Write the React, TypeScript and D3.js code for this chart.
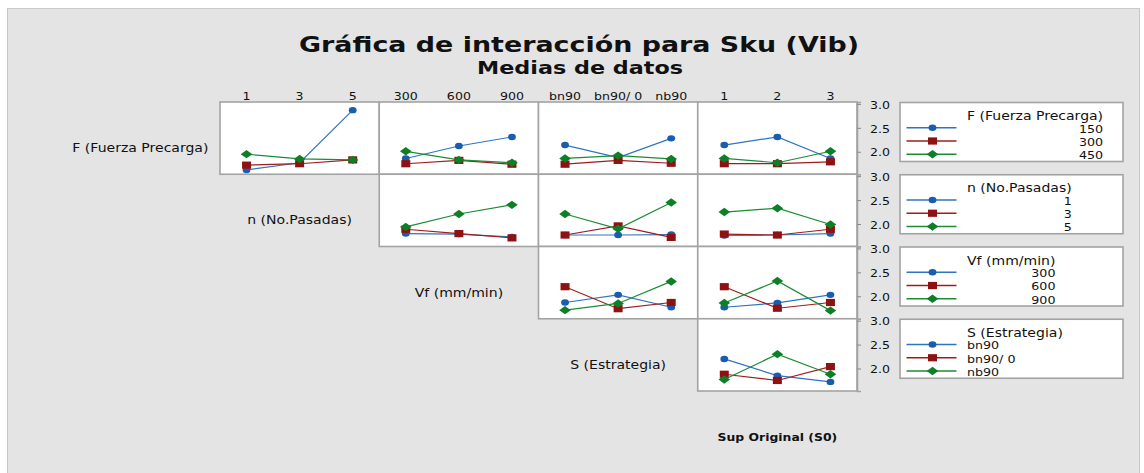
import React, { useEffect, useRef } from "react";
import * as d3 from "d3";

// Factor levels
const fLevels = ["150", "300", "450"];
const nLevels = ["1", "3", "5"];
const vfLevels = ["300", "600", "900"];
const sLevels = ["bn90", "bn90/ 0", "nb90"];
const s0Levels = ["1", "2", "3"];

const factorNames = [
  "F (Fuerza Precarga)",
  "n (No.Pasadas)",
  "Vf (mm/min)",
  "S (Estrategia)",
  "Sup Original (S0)",
];

// Means of Sku (Vib); one inner array per trace level
const fByN = [[1.62, 1.77, 2.87], [1.72, 1.75, 1.83], [1.95, 1.85, 1.83]];
const fByVf = [[1.86, 2.12, 2.31], [1.75, 1.82, 1.74], [2.01, 1.83, 1.77]];
const fByS = [[2.14, 1.88, 2.28], [1.74, 1.82, 1.76], [1.86, 1.92, 1.85]];
const fByS0 = [[2.14, 2.31, 1.86], [1.75, 1.75, 1.79], [1.86, 1.77, 2.01]];
const nByVf = [[1.8, 1.79, 1.73], [1.89, 1.8, 1.71], [1.94, 2.21, 2.4]];
const nByS = [[1.77, 1.77, 1.78], [1.77, 1.96, 1.72], [2.21, 1.9, 2.45]];
const nByS0 = [[1.76, 1.77, 1.8], [1.79, 1.77, 1.89], [2.25, 2.33, 1.99]];
const vfByS = [[1.87, 2.03, 1.77], [2.2, 1.74, 1.87], [1.71, 1.85, 2.31]];
const vfByS0 = [[1.77, 1.86, 2.03], [2.2, 1.75, 1.87], [1.86, 2.32, 1.7]];
const sByS0 = [[2.2, 1.85, 1.72], [1.88, 1.75, 2.04], [1.77, 2.3, 1.88]];

const yTicks = [2.0, 2.5, 3.0];

const W = 1144;
const H = 473;

const lineColors = ["#2f74c0", "#a01c1c", "#1b8c34"];
const markColors = ["#1a5db0", "#8e1212", "#0d7f26"];

export default function App() {
  const ref = useRef<SVGSVGElement>(null);

  useEffect(() => {
    const svg = d3.select(ref.current);
    svg.selectAll("*").remove();

    const font = "'DejaVu Sans', Verdana, sans-serif";

    const addText = (
      g: any,
      x: number,
      y: number,
      str: string,
      size: number,
      anchor: string,
      sx: number,
      weight = "normal"
    ) =>
      g
        .append("text")
        .attr("transform", `translate(${x},${y}) scale(${sx},1)`)
        .attr("text-anchor", anchor)
        .attr("dy", "0.35em")
        .attr("font-family", font)
        .attr("font-size", size)
        .attr("font-weight", weight)
        .attr("fill", "#111")
        .text(str);

    // backdrop
    svg.append("rect").attr("width", W).attr("height", H).attr("fill", "#fff");
    svg
      .append("rect")
      .attr("x", 7.5)
      .attr("y", 8.5)
      .attr("width", 1132)
      .attr("height", 470)
      .attr("fill", "#e4e4e4")
      .attr("stroke", "#c9c9c9");

    // titles
    svg
      .append("text")
      .attr("x", 579)
      .attr("y", 52)
      .attr("text-anchor", "middle")
      .attr("font-family", font)
      .attr("font-weight", "bold")
      .attr("font-size", 22)
      .attr("textLength", 560)
      .attr("lengthAdjust", "spacingAndGlyphs")
      .attr("fill", "#111")
      .text("Gráfica de interacción para Sku (Vib)");
    svg
      .append("text")
      .attr("x", 580)
      .attr("y", 74)
      .attr("text-anchor", "middle")
      .attr("font-family", font)
      .attr("font-weight", "bold")
      .attr("font-size", 17)
      .attr("textLength", 206)
      .attr("lengthAdjust", "spacingAndGlyphs")
      .attr("fill", "#111")
      .text("Medias de datos");

    const colScale = d3.scaleBand<number>().domain([0, 1, 2, 3]).range([220, 857]).paddingInner(0).paddingOuter(0);
    const rowScale = d3.scaleBand<number>().domain([0, 1, 2, 3]).range([102, 391]);
    const cw = colScale.bandwidth();
    const rh = rowScale.bandwidth();

    const xLevels = [nLevels, vfLevels, sLevels, s0Levels];
    const traceLevels = [fLevels, nLevels, vfLevels, sLevels];

    // cells[row][col] : means for trace factor row against x factor col
    const cells: (number[][] | null)[][] = [
      [fByN, fByVf, fByS, fByS0],
      [null, nByVf, nByS, nByS0],
      [null, null, vfByS, vfByS0],
      [null, null, null, sByS0],
    ];

    const yDomain: [number, number] = [1.53, 3.04];

    // top tick labels
    xLevels.forEach((levels, c) => {
      const x0 = colScale(c)!;
      const xs = d3.scalePoint<string>().domain(levels).range([x0, x0 + cw]).padding(0.5);
      levels.forEach((lv) => addText(svg, xs(lv)!, 96, lv, 10.5, "middle", 1.2));
    });

    // factor labels along the diagonal
    factorNames.forEach((name, r) => {
      const cx = 220 + (r - 1) * cw + cw / 2;
      const cy = 102 + r * rh + 46;
      addText(svg, cx, cy, name, r === 4 ? 11 : 12, "middle", r === 4 ? 1.13 : 1.17, r === 4 ? "bold" : "normal");
    });

    const drawMarker = (g: any, k: number, x: number, y: number, color: string) => {
      if (k === 0) {
        g.append("ellipse").attr("cx", x).attr("cy", y).attr("rx", 3.9).attr("ry", 3.2).attr("fill", color);
      } else if (k === 1) {
        g.append("rect").attr("x", x - 4.5).attr("y", y - 3.6).attr("width", 9).attr("height", 7.2).attr("fill", color);
      } else {
        g.append("path")
          .attr("d", `M${x - 5.8},${y}L${x},${y - 4.2}L${x + 5.8},${y}L${x},${y + 4.2}Z`)
          .attr("fill", color);
      }
    };

    for (let r = 0; r < 4; r++) {
      const top = rowScale(r)!;
      const y = d3.scaleLinear().domain(yDomain).range([top + rh, top]);
      for (let c = r; c < 4; c++) {
        const x0 = colScale(c)!;
        const g = svg.append("g");
        g.append("rect")
          .attr("x", x0)
          .attr("y", top)
          .attr("width", cw)
          .attr("height", rh)
          .attr("fill", "#fff")
          .attr("stroke", "#a3a3a3")
          .attr("stroke-width", 1.6);
        const xs = d3.scalePoint<string>().domain(xLevels[c]).range([x0, x0 + cw]).padding(0.5);
        const data = cells[r][c]!;
        const line = d3
          .line<number>()
          .x((_, i) => xs(xLevels[c][i])!)
          .y((v) => y(v));
        data.forEach((series, k) => {
          g.append("path")
            .attr("d", line(series))
            .attr("fill", "none")
            .attr("stroke", lineColors[k])
            .attr("stroke-width", 1.2);
          series.forEach((v, i) => drawMarker(g, k, xs(xLevels[c][i])!, y(v), markColors[k]));
        });
      }

      // right axis for the row
      const axisG = svg.append("g").attr("transform", `translate(857,0)`);
      const ax = d3.axisRight(y).tickValues(yTicks).tickSize(4).tickFormat(d3.format(".1f"));
      axisG.call(ax as any);
      axisG.select(".domain").attr("stroke", "#a3a3a3").attr("stroke-width", 1.6);
      axisG.selectAll(".tick line").attr("stroke", "#888");
      axisG.selectAll(".tick text").remove();
      yTicks.forEach((t) => addText(axisG, 13, y(t) + 1, d3.format(".1f")(t), 10.5, "start", 1.2));

      // legend
      const lg = svg.append("g");
      lg.append("rect")
        .attr("x", 900)
        .attr("y", top + 0.5)
        .attr("width", 223)
        .attr("height", 59)
        .attr("fill", "#fff")
        .attr("stroke", "#a3a3a3")
        .attr("stroke-width", 1.6);
      const tx = 967;
      const title = addText(lg, tx, top + 14, factorNames[r], 12, "start", 1.17);
      const tw = (title.node() as SVGTextElement).getComputedTextLength() * 1.17;
      const levels = traceLevels[r];
      const numeric = levels.every((l) => /^\d+$/.test(l));
      levels.forEach((lv, k) => {
        const iy = top + 25.7 + k * 13.3;
        lg.append("line")
          .attr("x1", 906.5)
          .attr("x2", 956.5)
          .attr("y1", iy)
          .attr("y2", iy)
          .attr("stroke", lineColors[k])
          .attr("stroke-width", 1.4);
        drawMarker(lg, k, 932.5, iy, markColors[k]);
        if (numeric) addText(lg, tx + tw, iy + 1, lv, 11, "end", 1.15);
        else addText(lg, tx, iy + 1, lv, 11, "start", 1.15);
      });
    }
  }, []);

  return (
    <svg
      ref={ref}
      width={W}
      height={H}
      style={{ position: "absolute", left: 0, top: 0, display: "block" }}
    />
  );
}
